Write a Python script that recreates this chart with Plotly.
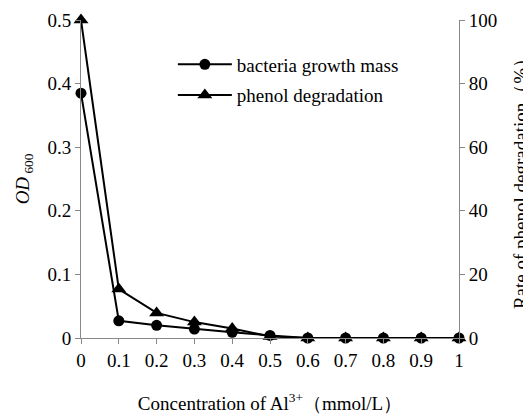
import plotly.graph_objects as go

conc = [0, 0.1, 0.2, 0.3, 0.4, 0.5, 0.6, 0.7, 0.8, 0.9, 1.0]
od600 = [0.385, 0.027, 0.020, 0.014, 0.009, 0.004, 0, 0, 0, 0, 0]
phenol = [100, 15.4, 7.9, 5.0, 3.0, 0.5, 0, 0, 0, 0, 0]
x_ticks = [0, 0.1, 0.2, 0.3, 0.4, 0.5, 0.6, 0.7, 0.8, 0.9, 1]
x_labels = ["0", "0.1", "0.2", "0.3", "0.4", "0.5", "0.6", "0.7", "0.8", "0.9", "1"]

font = "Liberation Serif"
FS = 19

fig = go.Figure()
fig.add_trace(go.Scatter(
    x=conc, y=od600, name="bacteria growth mass", mode="lines+markers",
    line=dict(color="black", width=2),
    marker=dict(symbol="circle", size=11, color="black"),
    cliponaxis=False, yaxis="y", legendgroup="a"))
fig.add_trace(go.Scatter(
    x=conc, y=phenol, name="phenol degradation", mode="lines+markers",
    line=dict(color="black", width=2),
    marker=dict(symbol="triangle-up", size=13, color="black"),
    cliponaxis=False, yaxis="y2", legendgroup="b"))

axis_common = dict(showgrid=False, zeroline=False, showline=True, linecolor="#888888",
                   linewidth=1, ticks="outside", ticklen=5, tickcolor="#888888",
                   tickfont=dict(family=font, size=FS, color="black"))

fig.update_layout(
    width=523, height=411,
    margin=dict(l=73, r=72, t=12, b=81, autoexpand=False),
    paper_bgcolor="white", plot_bgcolor="white",
    font=dict(family=font, size=FS, color="black"),
    showlegend=True,
    legend=dict(x=0.243, y=0.92, xanchor="left", yanchor="top",
                bgcolor="rgba(0,0,0,0)", font=dict(family=font, size=FS),
                traceorder="grouped", tracegroupgap=3, itemwidth=54),
    xaxis=dict(range=[0, 1], tickvals=x_ticks, ticktext=x_labels,
               title=dict(text="Concentration of Al<sup>3+</sup>（mmol/L）",
                          font=dict(family=font, size=FS), standoff=26),
               **axis_common),
    yaxis=dict(range=[0, 0.5], tickvals=[0, 0.1, 0.2, 0.3, 0.4, 0.5],
               ticktext=["0", "0.1", "0.2", "0.3", "0.4", "0.5"],
               title=dict(text="<i>OD</i><sub> 600</sub>", font=dict(family=font, size=FS),
                          standoff=12),
               **axis_common),
    yaxis2=dict(range=[0, 100], overlaying="y", side="right",
                tickvals=[0, 20, 40, 60, 80, 100],
                title=dict(text="Rate of phenol degradation（%）",
                           font=dict(family=font, size=FS), standoff=17),
                **axis_common),
)

fig.write_html("out.html")
